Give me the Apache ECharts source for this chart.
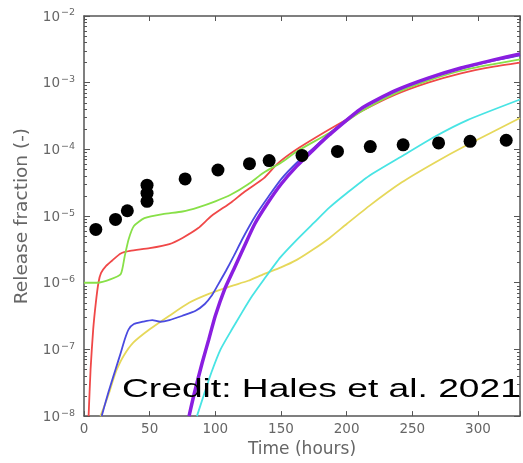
<!DOCTYPE html>
<html>
<head>
<meta charset="utf-8">
<script src="https://cdn.jsdelivr.net/npm/echarts@6/dist/echarts.min.js"></script>
<style>
html,body{margin:0;padding:0;background:#fff;}
#chart{width:523px;height:463px;}
</style>
</head>
<body>
<div id="chart"></div>
<script>
// ---- Data ----
const xTicks = [0, 50, 100, 150, 200, 250, 300];
const yTickExponents = [-8, -7, -6, -5, -4, -3, -2];

const expHours  = [9, 24, 33, 48, 48, 48, 77, 102, 126, 141, 166, 193, 218, 243, 270, 294, 321.5];
const expValues = [6.3e-6, 8.9e-6, 1.2e-5, 1.66e-5, 2.2e-5, 2.9e-5, 3.6e-5, 4.9e-5, 6.1e-5, 6.8e-5, 8.1e-5, 9.3e-5, 1.1e-4, 1.17e-4, 1.25e-4, 1.32e-4, 1.37e-4];

const redHours  = [3.5, 5, 7, 9, 11, 13, 17, 22, 28, 35, 50, 65, 75, 87, 97, 112, 122, 137, 147, 162, 187, 212, 237, 262, 287, 312, 332];
const redValues = [1e-8, 5.0e-8, 2.0e-7, 5.0e-7, 1.0e-6, 1.4e-6, 1.8e-6, 2.2e-6, 2.75e-6, 3.0e-6, 3.3e-6, 3.8e-6, 4.7e-6, 6.6e-6, 1.0e-5, 1.6e-5, 2.3e-5, 3.7e-5, 6.0e-5, 1.0e-4, 2.0e-4, 3.8e-4, 6.6e-4, 1.0e-3, 1.38e-3, 1.74e-3, 2.0e-3];

const greenHours  = [0, 10, 20, 28, 31, 34, 38, 46, 60, 75, 87, 100, 112, 125, 137, 150, 162, 187, 212, 237, 262, 287, 312, 332];
const greenValues = [1.0e-6, 1.0e-6, 1.12e-6, 1.35e-6, 2.5e-6, 4.5e-6, 7.1e-6, 9.3e-6, 1.07e-5, 1.17e-5, 1.35e-5, 1.66e-5, 2.1e-5, 3.0e-5, 4.5e-5, 6.3e-5, 9.3e-5, 1.78e-4, 3.8e-4, 6.9e-4, 1.07e-3, 1.51e-3, 1.9e-3, 2.24e-3];

const yellowHours  = [12.5, 16, 19, 22, 25, 30, 37.5, 50, 65, 80, 95, 112, 125, 137, 150, 162, 175, 187, 200, 217, 242, 267, 292, 332];
const yellowValues = [1.0e-8, 1.5e-8, 2.2e-8, 3.4e-8, 5.0e-8, 7.9e-8, 1.26e-7, 2.0e-7, 3.2e-7, 5.0e-7, 6.8e-7, 8.9e-7, 1.07e-6, 1.35e-6, 1.7e-6, 2.2e-6, 3.2e-6, 4.7e-6, 7.6e-6, 1.41e-5, 3.2e-5, 6.3e-5, 1.17e-4, 2.95e-4];

const cyanHours  = [86, 91, 97, 104, 112, 120, 128, 137, 149.5, 162, 175, 187, 200, 217, 242, 267, 292, 332];
const cyanValues = [1.0e-8, 2.0e-8, 4.5e-8, 1.0e-7, 1.9e-7, 3.5e-7, 6.3e-7, 1.12e-6, 2.4e-6, 4.4e-6, 7.9e-6, 1.35e-5, 2.2e-5, 4.0e-5, 7.9e-5, 1.55e-4, 2.75e-4, 5.6e-4];

const blueHours  = [13.5, 17, 20, 24, 28, 31, 34, 38, 45, 52, 58, 65, 75, 85, 92, 97, 102, 108, 114, 120, 126, 132, 140, 150, 162, 175, 187, 212, 237, 262, 287, 312, 332];
const blueValues = [1.0e-8, 1.78e-8, 2.8e-8, 5.0e-8, 8.9e-8, 1.41e-7, 2.0e-7, 2.4e-7, 2.6e-7, 2.75e-7, 2.6e-7, 2.75e-7, 3.2e-7, 3.8e-7, 4.8e-7, 6.3e-7, 9.3e-7, 1.5e-6, 2.5e-6, 4.3e-6, 7.1e-6, 1.12e-5, 1.9e-5, 3.55e-5, 6.3e-5, 1.05e-4, 1.74e-4, 4.2e-4, 7.4e-4, 1.15e-3, 1.62e-3, 2.14e-3, 2.57e-3];

const purpleHours  = [80, 84, 90, 95, 100, 107, 114, 122, 130, 140, 150, 162, 175, 187, 212, 237, 262, 287, 312, 332];
const purpleValues = [1.0e-8, 2.2e-8, 6.3e-8, 1.41e-7, 3.2e-7, 7.9e-7, 1.58e-6, 3.5e-6, 7.6e-6, 1.58e-5, 3.0e-5, 5.6e-5, 1.0e-4, 1.66e-4, 4.2e-4, 7.6e-4, 1.17e-3, 1.66e-3, 2.2e-3, 2.7e-3];

const xMin = 0, xMax = 332;
const yMin = 1e-8, yMax = 1e-2;

// minor tick multipliers for the log axis (2..9 per decade)
const minorMultipliers = [2, 3, 4, 5, 6, 7, 8, 9];

// ---- build ----
function zip(a, b) { return a.map((v, i) => [v, b[i]]); }
const minorVals = [];
for (let e = -8; e < -2; e++) {
  minorMultipliers.forEach(m => minorVals.push(parseFloat(m + 'e' + e)));
}
const majorVals = yTickExponents.map(e => parseFloat('1e' + e));

const axisColor = '#555';
const labelColor = '#666';
const font = 'DejaVu Sans';

function makeLine(name, hours, values, color, width) {
  return {
    name, type: 'line', data: zip(hours, values),
    showSymbol: false, smooth: 0.2,
    lineStyle: { color, width }, itemStyle: { color },
    xAxisIndex: 0, yAxisIndex: 0, z: 3, silent: true, animation: false
  };
}

const chart = echarts.init(document.getElementById('chart'), null, { renderer: 'canvas' });

const baseX = {
  type: 'value', min: xMin, max: xMax, interval: 50,
  axisLine: { show: true, lineStyle: { color: axisColor, width: 1.5 } },
  axisTick: { show: true, inside: true, length: 5, lineStyle: { color: axisColor, width: 1 } },
  splitLine: { show: false }
};

const baseYLog = {
  type: 'log', logBase: 10, min: yMin, max: yMax,
  splitLine: { show: false }
};

const option = {
  animation: false,
  backgroundColor: '#fff',
  grid: { left: 84, top: 16, bottom: 45, right: -3, containLabel: false },
  xAxis: [
    Object.assign({}, baseX, {
      position: 'bottom',
      axisLabel: { show: true, color: labelColor, fontFamily: font, fontSize: 13.5, margin: 6,
        formatter: function (v) { return xTicks.indexOf(v) >= 0 ? String(v) : ''; } },
      name: 'Time (hours)', nameLocation: 'middle', nameGap: 22,
      nameTextStyle: { color: labelColor, fontFamily: font, fontSize: 17, verticalAlign: 'top' }
    }),
    Object.assign({}, baseX, {
      position: 'top',
      axisLabel: { show: false }
    })
  ],
  yAxis: [
    Object.assign({}, baseYLog, {
      position: 'left',
      axisLine: { show: true, lineStyle: { color: axisColor, width: 1.5 } },
      axisTick: { show: true, inside: true, length: 6, lineStyle: { color: axisColor, width: 1 }, customValues: majorVals },
      axisLabel: {
        show: true, margin: 9, customValues: majorVals,
        formatter: function (v) {
          const e = Math.round(Math.log10(v));
          return '{b|10}{s|\u2212' + Math.abs(e) + '}';
        },
        rich: {
          b: { color: labelColor, fontFamily: font, fontSize: 13.5, verticalAlign: 'bottom', lineHeight: 16 },
          s: { color: labelColor, fontFamily: font, fontSize: 9.5, verticalAlign: 'top', lineHeight: 16, padding: [0, 0, 6, 1] }
        }
      },
      name: 'Release fraction (-)', nameLocation: 'middle', nameGap: 52, nameRotate: 90,
      nameTextStyle: { color: labelColor, fontFamily: font, fontSize: 18.5 }
    }),
    Object.assign({}, baseYLog, {
      position: 'left',
      axisLine: { show: false },
      axisTick: { show: true, inside: true, length: 3, lineStyle: { color: axisColor, width: 1 }, customValues: minorVals },
      axisLabel: { show: false }
    }),
    Object.assign({}, baseYLog, {
      position: 'right',
      axisLine: { show: true, lineStyle: { color: axisColor, width: 1.5 } },
      axisTick: { show: true, inside: true, length: 6, lineStyle: { color: axisColor, width: 1 }, customValues: majorVals },
      axisLabel: { show: false }
    }),
    Object.assign({}, baseYLog, {
      position: 'right',
      axisLine: { show: false },
      axisTick: { show: true, inside: true, length: 3, lineStyle: { color: axisColor, width: 1 }, customValues: minorVals },
      axisLabel: { show: false }
    })
  ],
  series: [
    makeLine('red', redHours, redValues, '#f04848', 1.8),
    makeLine('green', greenHours, greenValues, '#88e048', 1.8),
    makeLine('yellow', yellowHours, yellowValues, '#e6d85a', 1.8),
    makeLine('cyan', cyanHours, cyanValues, '#48e4e4', 1.8),
    makeLine('blue', blueHours, blueValues, '#4a4ae0', 1.8),
    makeLine('purple', purpleHours, purpleValues, '#8a1ee0', 3.5),
    {
      name: 'experiment', type: 'scatter', data: zip(expHours, expValues),
      symbol: 'circle', symbolSize: 13, itemStyle: { color: '#000', opacity: 1 },
      xAxisIndex: 0, yAxisIndex: 0, z: 5, silent: true, animation: false
    }
  ],
  graphic: [
    {
      type: 'text', x: 122, y: 390, scaleX: 1.43, scaleY: 1, z: 100,
      style: { text: 'Credit: Hales et al. 2021', fill: '#000', font: '26px "Liberation Sans"', verticalAlign: 'middle', align: 'left' }
    }
  ]
};

chart.setOption(option);
</script>
</body>
</html>
